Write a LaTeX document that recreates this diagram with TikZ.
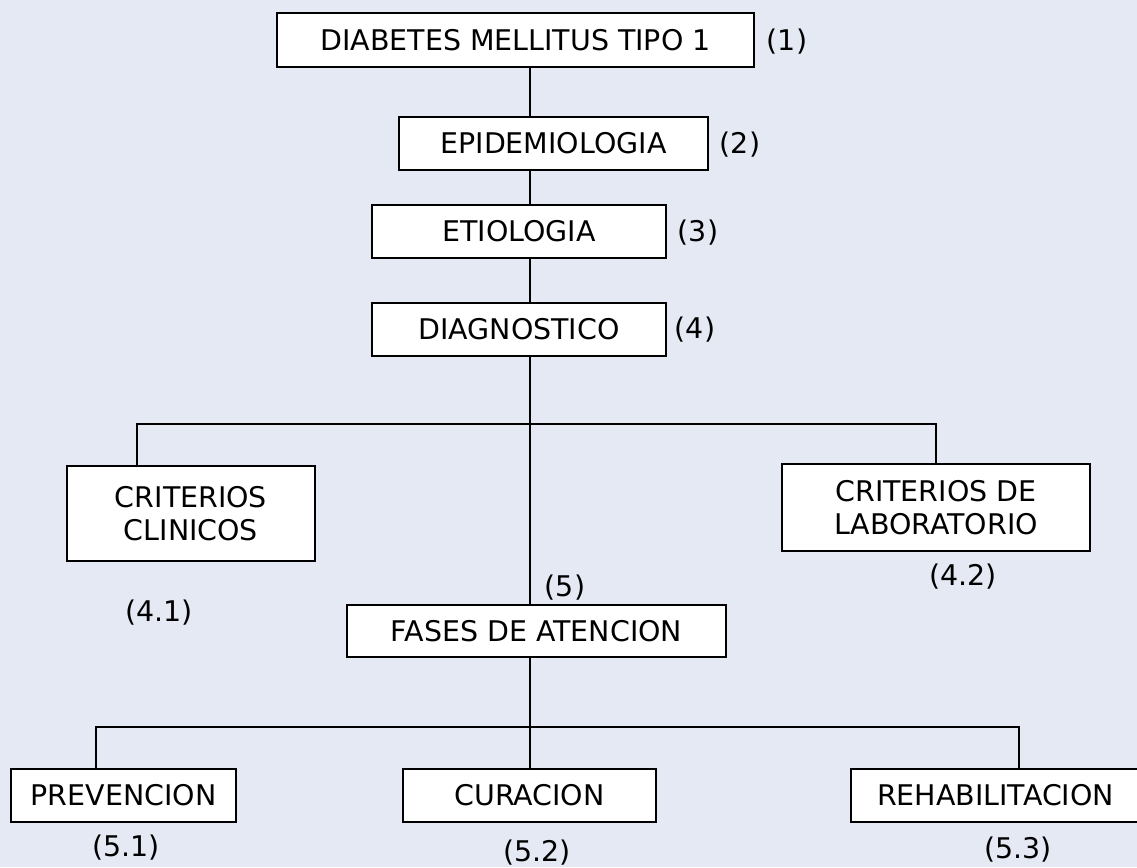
\documentclass[tikz,border=0pt]{standalone}
\usepackage{fontspec}
\setmainfont{DejaVu Sans}
\definecolor{fondo}{RGB}{228,233,244}
\tikzset{
  caja/.style 2 args={draw, line width=1.1pt, fill=white, inner sep=0pt, align=center,
    minimum width=#1*0.02cm, minimum height=#2*0.02cm},
  linea/.style={line width=0.9pt},
  etiq/.style={inner sep=0pt}
}

\begin{document}
\begin{tikzpicture}[x=0.02cm, y=-0.02cm, font=\fontsize{16.2}{18.7}\selectfont]
  \useasboundingbox (0,0) rectangle (1137,867);
  \clip (0,0) rectangle (1137,867);
  \fill [fondo] (0,0) rectangle (1137,867);

  \node [caja={477}{54}] (dm) at (515.5,40) {DIABETES MELLITUS TIPO 1};
  \node [caja={309}{53}] (epi) at (553.5,143.5) {EPIDEMIOLOGIA};
  \node [caja={294}{53}] (eti) at (519,231.5) {ETIOLOGIA};
  \node [caja={294}{53}] (diag) at (519,329.5) {DIAGNOSTICO};
  \node [caja={248}{95}] (clin) at (191,513.5) {CRITERIOS\\CLINICOS};
  \node [caja={308}{87}] (lab) at (936,507.5) {CRITERIOS DE\\LABORATORIO};
  \node [caja={379}{52}] (fases) at (536.5,631) {FASES DE ATENCION};
  \node [caja={225}{53}] (prev) at (123.5,795.5) {PREVENCION};
  \node [caja={253}{53}] (cur) at (529.5,795.5) {CURACION};
  \node [caja={289}{53}, text width=257*0.02cm] (rehab) at (995.5,795.5) {REHABILITACION};

  \node [etiq] (l1) at (787,42) {(1)};
  \node [etiq] (l2) at (740,145) {(2)};
  \node [etiq] (l3) at (698,233) {(3)};
  \node [etiq] (l4) at (695,330) {(4)};
  \node [etiq] (l41) at (159,613) {(4.1)};
  \node [etiq] (l42) at (963,577) {(4.2)};
  \node [etiq] (l5) at (565,588) {(5)};
  \node [etiq] (l51) at (126,848) {(5.1)};
  \node [etiq] (l52) at (537,853) {(5.2)};
  \node [etiq] (l53) at (1018,850) {(5.3)};

  \coordinate (eje) at (530,0);
  \coordinate (b1) at (137,424);
  \coordinate (b2) at (936,424);
  \coordinate (c1) at (96,727);
  \coordinate (c2) at (1019,727);

  \draw [linea] (eje |- dm.south) -- (eje |- epi.north);
  \draw [linea] (eje |- epi.south) -- (eje |- eti.north);
  \draw [linea] (eje |- eti.south) -- (eje |- diag.north);
  \draw [linea] (eje |- diag.south) -- (eje |- fases.north);
  \draw [linea] (clin.north -| b1) -- (b1) -- (b2) -- (lab.north);
  \draw [linea] (eje |- fases.south) -- (eje |- cur.north);
  \draw [linea] (prev.north -| c1) -- (c1) -- (c2) -- (rehab.north -| c2);
\end{tikzpicture}
\end{document}
